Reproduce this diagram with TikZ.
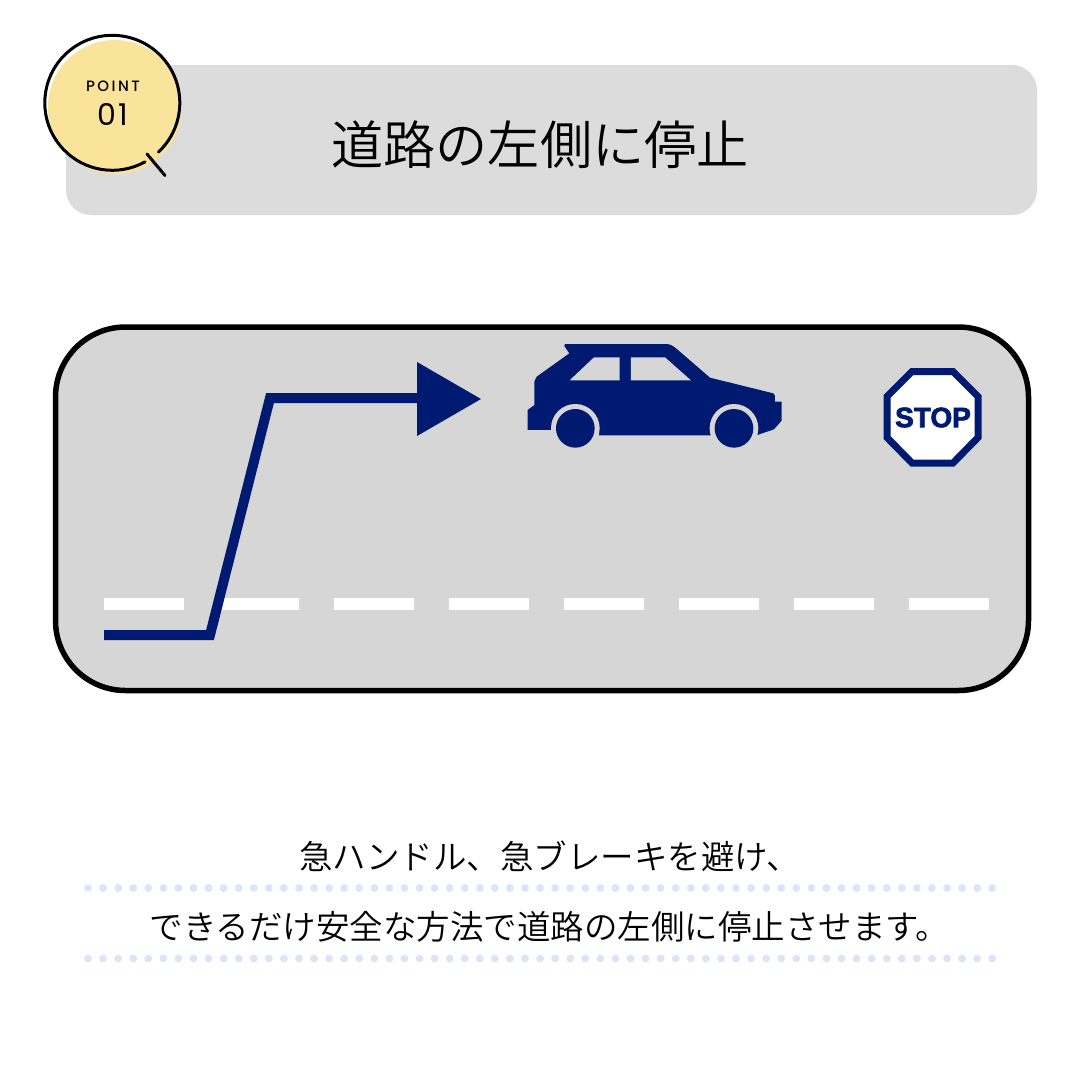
\documentclass[tikz,border=0pt]{standalone}
\usepackage{fontspec}
\setmainfont{Noto Sans CJK JP}
\newfontfamily\cjkl{Noto Sans CJK JP DemiLight}
\newfontfamily\pop{Poppins}
\newfontfamily\popm{Poppins Medium}
\newfontfamily\stopf[FakeBold=2.6]{Liberation Sans Bold}
\definecolor{navy}{HTML}{001A72}
\definecolor{road}{HTML}{D6D6D6}
\definecolor{bar}{HTML}{DCDCDC}
\definecolor{ylw}{HTML}{FAE39A}
\definecolor{dot}{HTML}{DAE5F5}
\tikzset{
 dashbar/.style={fill=white,draw=none},
 dotrow/.style={fill=dot,draw=none},
 lab/.style={inner sep=0pt,font=\cjkl\fontsize{33.5}{33.5}\selectfont,text=black},
 ink/.style={black,line width=3pt,line cap=round},
}
\begin{document}
\begin{tikzpicture}[x=1pt,y=-1pt]
\useasboundingbox (0,0) rectangle (1080,1080);
\fill[white] (0,0) rectangle (1080,1080);
% title bar
\fill[bar,rounded corners=25pt] (66,65) rectangle (1037,215);
\node[inner sep=0pt,font=\cjkl\fontsize{52.2}{52.2}\selectfont] (title) at (540,145) {道路の左側に停止};
% badge
\fill[ylw] (115,107) circle (67);
\coordinate (bc) at (112.3,102.8);
\draw[ink] (bc)++(47:67.5) arc[start angle=47,delta angle=-346,radius=67.5];
\coordinate (t1) at (147,154);
\coordinate (t2) at (165,175.5);
\draw[ink] (t1) -- (t2);
\node[inner sep=0pt,font=\popm\fontsize{15}{15}\selectfont] (pt) at (113,86) {P\kern2.5pt O\kern2.5pt I\kern2.5pt N\kern2.5pt T};
\node[inner sep=0pt,font=\pop\fontsize{30}{30}\selectfont] (num) at (113,114) {0\kern2pt 1};
% road
\draw[black,line width=5.5pt,fill=road,rounded corners=70pt] (55.5,327) rectangle (1028.5,690.5);
\foreach \x in {104,219,334,449,564,679,794,909}
  \fill[dashbar] (\x,597.5) rectangle ++(80,12);
% route
\coordinate (r1) at (104,635);
\coordinate (r2) at (210,635);
\coordinate (r3) at (270,398);
\coordinate (r4) at (420,398);
\draw[navy,line width=10pt,miter limit=10] (r1) -- (r2) -- (r3) -- (r4);
\fill[navy] (417,362) -- (481,399) -- (417,436) -- cycle;
% car
\begin{scope}[shift={(510,330)},x=0.3333pt,y=-0.3333pt]
\fill[navy] (165,42) -- (470,42) .. controls (482,43) and (490,48) .. (497,54) -- (600,143) -- (790,190) -- (795,197) -- (795,215) -- (815,215) -- (815,272) -- (792,298) -- (742,315) -- (603,316) -- (267,316) -- (124,300) -- (53,300) -- (53,240) -- (73,225) -- (73,155) -- (80,140) -- (178,70) -- (163,48) -- cycle;
\fill[road] (252,82) -- (329,82) -- (329,151) -- (179,151) -- cycle;
\fill[road] (363,82) -- (465,82) -- (543,151) -- (363,151) -- cycle;
\fill[road] (196,295) circle (73);
\fill[road] (672,295) circle (73);
\fill[road] (124,300) rectangle (267,370);
\fill[road] (603,316) rectangle (742,370);
\fill[navy] (196,295) circle (58);
\fill[navy] (672,295) circle (58);
\end{scope}
% stop sign
\draw[navy,line width=7pt,fill=white] (912,371.5) -- (953,371.5) -- (978,396.5) -- (978,437.5) -- (953,463) -- (912,463) -- (887,437.5) -- (887,396.5) -- cycle;
\node[inner sep=0pt,text=navy,font=\stopf\fontsize{28}{28}\selectfont] (stop) at (933,417.5) {STOP};
% captions
\node[lab] (l1) at (549.5,856) {急ハンドル、急ブレーキを避け、};
\node[lab] (l2) at (549.5,927) {できるだけ安全な方法で道路の左側に停止させます。};
\foreach \i in {0,...,60} {
  \fill[dotrow] (88+15.07*\i,888) circle (3.9);
  \fill[dotrow] (88+15.07*\i,958.5) circle (3.9);
}
\end{tikzpicture}
\end{document}
